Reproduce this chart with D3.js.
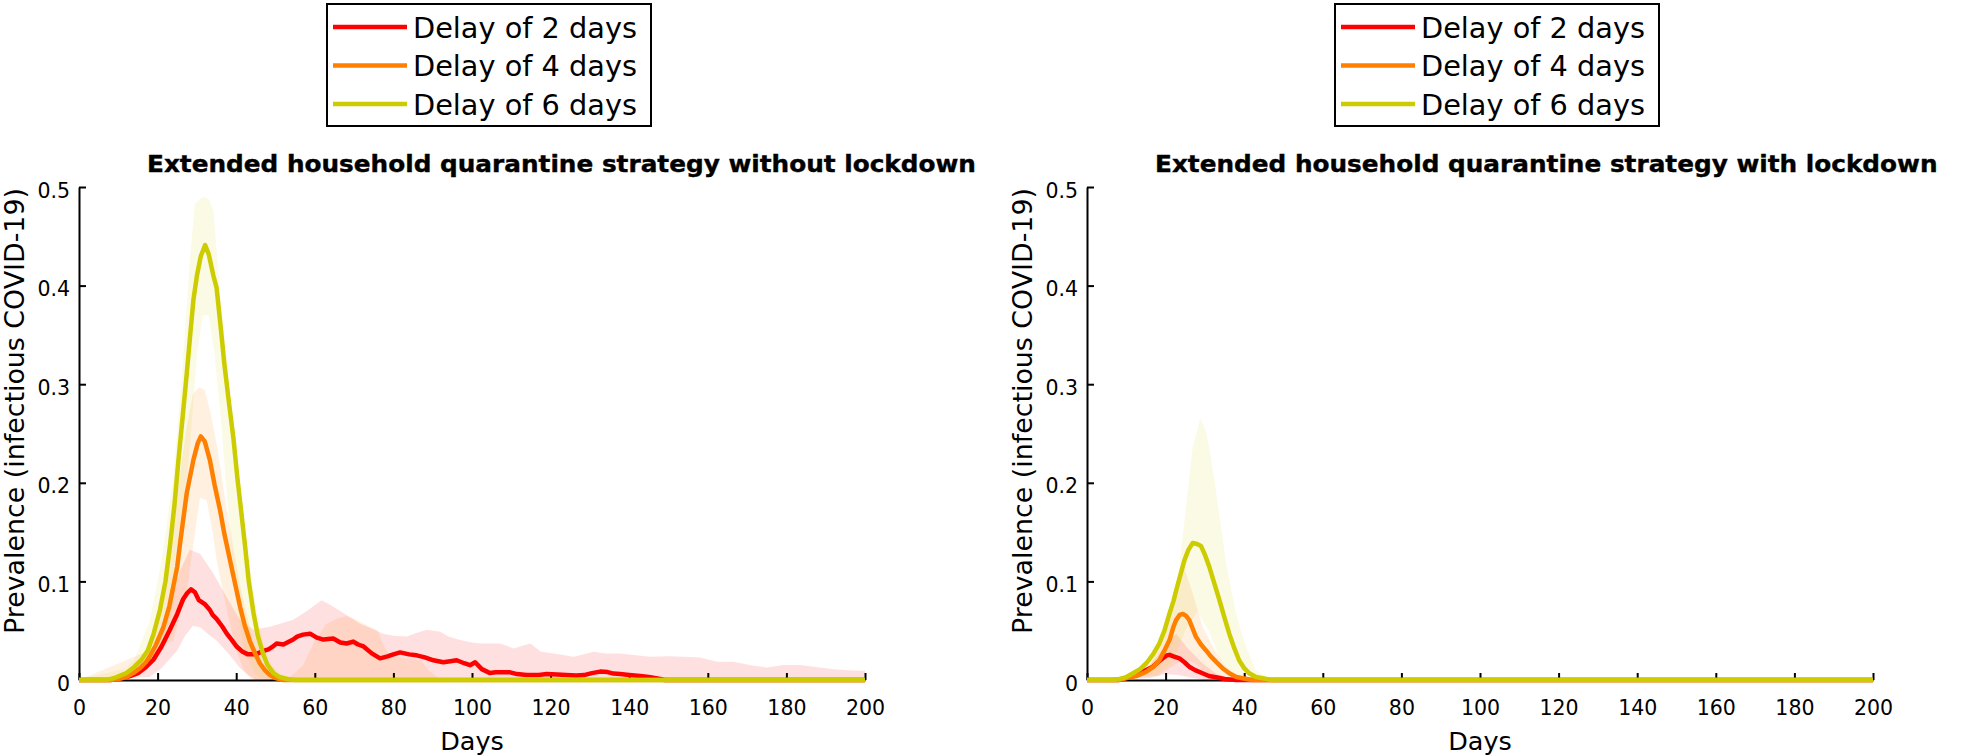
<!DOCTYPE html>
<html>
<head>
<meta charset="utf-8">
<script src="https://cdn.jsdelivr.net/npm/d3@7/dist/d3.min.js"></script>
<style>
  html, body { margin: 0; padding: 0; background: #fff; }
  svg { display: block; }
  text { font-family: "DejaVu Sans", Verdana, sans-serif; fill: #000; }
</style>
</head>
<body>
<svg id="chart" width="1968" height="756"></svg>
<script>
// ---------- data ----------
const xTicks = [0, 20, 40, 60, 80, 100, 120, 140, 160, 180, 200];
const yTicks = [0, 0.1, 0.2, 0.3, 0.4, 0.5];
const seriesNames = ["Delay of 2 days", "Delay of 4 days", "Delay of 6 days"];
const seriesColors = ["#ff0000", "#ff8000", "#cccc00"];
const panelTitles = [
  "Extended household quarantine strategy without lockdown",
  "Extended household quarantine strategy with lockdown"
];
const xLabel = "Days";
const yLabel = "Prevalence (infectious COVID-19)";

// Without lockdown: mean lines [day, prevalence]
const noLock2 = [[0,0],[8,0],[11,0.002],[13,0.004],[15,0.007],[17,0.013],[19,0.021],[21,0.034],[23,0.05],[25,0.067],[26.5,0.082],[27.5,0.088],[28.5,0.092],[29.5,0.089],[30.5,0.081],[32,0.077],[33.3,0.071],[34,0.066],[35,0.062],[36.5,0.054],[37.6,0.047],[39,0.04],[40.1,0.034],[41.5,0.029],[43,0.026],[45,0.026],[46.5,0.029],[48.2,0.031],[49,0.033],[50.3,0.037],[52,0.036],[53,0.038],[54.5,0.041],[55.5,0.044],[57,0.046],[58.8,0.047],[60.5,0.043],[62.2,0.041],[64.7,0.042],[66.5,0.038],[68.1,0.037],[69.8,0.039],[71,0.036],[72.4,0.034],[74.5,0.027],[76.6,0.022],[78.5,0.024],[80,0.026],[81.7,0.028],[84,0.026],[85.9,0.025],[88,0.023],[90.2,0.02],[92.7,0.018],[94.5,0.019],[96.1,0.02],[98,0.017],[99.5,0.015],[100.8,0.018],[102.5,0.011],[104.6,0.007],[106,0.0078],[109.7,0.0078],[111.5,0.006],[113.9,0.005],[117,0.005],[119,0.006],[121.6,0.0055],[124,0.005],[126.6,0.0045],[128.5,0.005],[130.5,0.007],[132.6,0.0085],[134.5,0.008],[136,0.0065],[137.7,0.006],[140,0.005],[142.8,0.004],[145,0.003],[147.9,0.001],[149,0],[200,0]];
const noLock4 = [[0,0],[8,0],[10,0.001],[12,0.003],[13.8,0.007],[15.5,0.012],[17,0.018],[18,0.024],[19.5,0.035],[21.5,0.054],[23,0.075],[24,0.095],[25,0.115],[25.7,0.138],[26.5,0.162],[27.4,0.189],[28.2,0.205],[29.1,0.223],[30.2,0.24],[31,0.247],[32,0.242],[33.3,0.223],[34.5,0.198],[35.9,0.172],[37,0.148],[38.4,0.122],[39.7,0.098],[41,0.074],[42.2,0.055],[43.5,0.039],[44.8,0.027],[46,0.017],[47.3,0.01],[48.6,0.005],[50,0.002],[52,0],[200,0]];
const noLock6 = [[0,0],[7,0],[9,0.002],[12,0.007],[14,0.013],[16,0.021],[17.5,0.03],[19,0.047],[20.6,0.071],[22,0.1],[23.2,0.138],[24.3,0.178],[25.3,0.223],[26.4,0.268],[27.4,0.31],[28.3,0.35],[29.1,0.385],[30,0.41],[31,0.43],[32.1,0.441],[33,0.432],[34.2,0.41],[35,0.398],[36,0.36],[37,0.32],[38.2,0.28],[39.3,0.245],[40.3,0.205],[41.3,0.17],[42.2,0.138],[43.2,0.1],[44.4,0.068],[45.5,0.045],[46.8,0.027],[48,0.015],[49.5,0.007],[51,0.003],[53,0.001],[55,0],[200,0]];

// Without lockdown: uncertainty bands (upper / lower)
const noLock2Hi = [[0,0],[10,0.003],[15,0.012],[18,0.025],[20.6,0.044],[23.2,0.078],[25.7,0.111],[28.2,0.132],[30.8,0.128],[34.2,0.108],[37.6,0.084],[41,0.061],[44.4,0.051],[48.6,0.054],[54.5,0.061],[58,0.07],[61.7,0.081],[64,0.076],[67.3,0.068],[71.5,0.057],[74,0.053],[77.4,0.047],[80,0.045],[83.4,0.044],[86,0.048],[88.5,0.051],[91.9,0.049],[94,0.044],[97,0.0405],[100,0.038],[102.1,0.037],[107.2,0.037],[110.6,0.032],[113,0.035],[114.9,0.037],[117.4,0.029],[122,0.026],[125.9,0.0236],[131,0.0287],[134,0.027],[137.7,0.027],[145.4,0.0236],[150,0.024],[153.9,0.0236],[158,0.0229],[162.4,0.0186],[166.5,0.0186],[171,0.015],[175,0.0128],[179.3,0.0152],[183.5,0.0152],[188,0.013],[192,0.0108],[196,0.01],[200,0.0095]];
const noLock2Lo = [[0,0],[18,0.003],[21,0.012],[25,0.03],[27,0.045],[29,0.055],[31,0.053],[33,0.046],[35,0.04],[38,0.027],[41,0.012],[43,0.005],[45,0],[200,0]];
const noLock4Hi = [[0,0],[12,0.004],[16,0.02],[19,0.045],[22.3,0.105],[24.9,0.189],[27.4,0.257],[29,0.29],[30.5,0.297],[32,0.294],[33.5,0.27],[35,0.24],[37.6,0.172],[41,0.095],[44.4,0.037],[47,0.012],[50,0.003],[54,0.004],[57,0.015],[60,0.04],[63,0.057],[66,0.063],[68,0.065],[70,0.062],[73,0.056],[76,0.05],[77.5,0.035],[79,0.025],[83,0.022],[87,0.02],[89,0.01],[92,0],[200,0]];
const noLock4Lo = [[0,0],[24,0.04],[26,0.07],[27.4,0.088],[29.1,0.138],[30.8,0.185],[32.5,0.182],[34,0.15],[35,0.122],[37.6,0.071],[40,0.03],[42,0.01],[44,0],[200,0]];
const noLock6Hi = [[0,0],[10,0.004],[14,0.02],[18,0.06],[21,0.12],[24,0.206],[26.5,0.324],[28.2,0.425],[29.5,0.483],[31.6,0.49],[33,0.488],[34.2,0.476],[35.9,0.392],[38.4,0.29],[41,0.189],[44.4,0.088],[46.9,0.037],[49,0.015],[52,0.004],[55,0],[200,0]];
const noLock6Lo = [[0,0],[20,0.02],[23,0.06],[25,0.1],[27,0.18],[28.5,0.25],[30,0.33],[31.5,0.37],[33,0.37],[34.5,0.33],[36,0.27],[38,0.17],[40,0.08],[42,0.03],[45,0.005],[48,0],[200,0]];

// With lockdown: mean lines
const lock2 = [[0,0],[8,0],[10,0.002],[12.5,0.005],[14.5,0.009],[16.8,0.0135],[18,0.018],[19.3,0.022],[20.3,0.025],[21,0.0255],[22,0.024],[23.5,0.022],[24.8,0.018],[26,0.0135],[27.5,0.01],[29.4,0.0068],[31,0.004],[32.8,0.0027],[35,0.001],[38,0],[200,0]];
const lock4 = [[0,0],[8,0],[10,0.002],[12.5,0.004],[15.1,0.0084],[16.8,0.013],[18.4,0.02],[19.7,0.03],[21,0.0405],[22,0.054],[22.7,0.061],[23.6,0.066],[24.4,0.067],[25.2,0.065],[26,0.061],[26.8,0.053],[27.7,0.044],[29,0.036],[30.3,0.03],[31.5,0.024],[32.8,0.0186],[34.5,0.012],[36.2,0.0068],[38,0.003],[39.6,0.0017],[42,0],[200,0]];
const lock6 = [[0,0],[7,0],[8.3,0.001],[10,0.003],[11.7,0.0068],[13.5,0.011],[15.1,0.017],[16.8,0.026],[18.4,0.037],[19.7,0.05],[21,0.0675],[22,0.08],[22.7,0.091],[23.8,0.107],[24.8,0.1216],[25.8,0.132],[26.9,0.139],[28,0.138],[29,0.136],[30,0.127],[31.1,0.115],[32.4,0.098],[33.7,0.081],[35,0.063],[36.2,0.047],[37.5,0.032],[38.7,0.02],[40,0.012],[41.3,0.0068],[43,0.003],[44.7,0.0017],[47,0],[200,0]];

// With lockdown: uncertainty bands
const lock2Hi = [[0,0],[12,0.004],[16,0.015],[19,0.03],[21,0.04],[22.7,0.047],[25.2,0.034],[29.4,0.017],[33,0.006],[37,0.001],[40,0],[200,0]];
const lock2Lo = [[0,0],[16,0.002],[20,0.006],[23,0.005],[27,0.002],[30,0],[200,0]];
const lock4Hi = [[0,0],[12,0.004],[16,0.015],[19.3,0.04],[21.8,0.084],[23.5,0.11],[24.4,0.118],[26.9,0.088],[29.4,0.054],[32,0.034],[35,0.015],[38,0.004],[41,0],[200,0]];
const lock4Lo = [[0,0],[18,0.004],[21,0.012],[24,0.02],[27,0.018],[30,0.008],[33,0.002],[36,0],[200,0]];
const lock6Hi = [[0,0],[12,0.005],[16,0.02],[19,0.04],[21,0.061],[23.5,0.115],[25.2,0.176],[26.9,0.236],[28.8,0.265],[30,0.255],[31.1,0.236],[32.8,0.192],[35.4,0.118],[37.9,0.0675],[40.4,0.034],[43,0.01],[46,0.002],[50,0],[200,0]];
const lock6Lo = [[0,0],[18,0.005],[22,0.02],[25,0.05],[28,0.07],[31,0.05],[34,0.02],[37,0.005],[40,0],[200,0]];

// ---------- drawing ----------
const svg = d3.select("#chart");
svg.append("rect").attr("width", 1968).attr("height", 756).attr("fill", "#fff");

const panels = [
  { off: 0, title: panelTitles[0], lines: [noLock2, noLock4, noLock6],
    bands: [[noLock2Hi, noLock2Lo], [noLock4Hi, noLock4Lo], [noLock6Hi, noLock6Lo]] },
  { off: 1008, title: panelTitles[1], lines: [lock2, lock4, lock6],
    bands: [[lock2Hi, lock2Lo], [lock4Hi, lock4Lo], [lock6Hi, lock6Lo]] }
];

const fmtY = d => d === 0 ? "0" : d3.format(".1f")(d);
let titleRatio = null;

panels.forEach((p, pi) => {
  const g = svg.append("g").attr("transform", `translate(${p.off},0)`);
  const x = d3.scaleLinear().domain([0, 200]).range([79, 865]);
  const y = d3.scaleLinear().domain([0, 0.5]).range([680, 187]);

  // bands
  const lineGen = d3.line().x(d => x(d[0])).y(d => y(d[1]));
  p.bands.forEach((b, i) => {
    const poly = b[0].concat(b[1].slice().reverse());
    g.append("path")
      .attr("d", lineGen(poly) + "Z")
      .attr("fill", seriesColors[i])
      .attr("fill-opacity", i === 2 ? 0.1 : 0.12)
      .attr("stroke", "none");
  });

  // axes
  const xAxis = d3.axisBottom(x).tickValues(xTicks).tickSizeInner(-7).tickSizeOuter(0).tickPadding(20);
  const yAxis = d3.axisLeft(y).tickValues(yTicks).tickFormat(fmtY).tickSizeInner(-7).tickSizeOuter(0).tickPadding(9);
  const gx = g.append("g").attr("transform", "translate(0,680)").call(xAxis);
  const gy = g.append("g").attr("transform", "translate(79,0)").call(yAxis);
  [gx, gy].forEach(a => {
    a.select(".domain").attr("stroke", "#000").attr("stroke-width", 2);
    a.selectAll(".tick line").attr("stroke", "#000").attr("stroke-width", 2);
    a.selectAll(".tick text").attr("font-family", "DejaVu Sans").attr("font-size", 20.5).attr("fill", "#000");
  });
  gy.selectAll(".tick text").attr("dy", "0.49em");

  // axis labels
  g.append("text").attr("x", 472).attr("y", 750).attr("text-anchor", "middle")
    .attr("font-size", 25.5).text(xLabel);
  g.append("text").attr("transform", "translate(24,411) rotate(-90)")
    .attr("text-anchor", "middle").attr("font-size", 26)
    .attr("textLength", 446).attr("lengthAdjust", "spacingAndGlyphs").text(yLabel);

  // mean lines
  p.lines.forEach((ln, i) => {
    g.append("path").attr("d", lineGen(ln))
      .attr("fill", "none").attr("stroke", seriesColors[i])
      .attr("stroke-width", 4.5).attr("stroke-linejoin", "round").attr("stroke-linecap", "butt");
  });

  // title
  const t = g.append("text").attr("x", 147).attr("y", 172)
    .attr("font-size", 23.5).attr("font-weight", "bold")
    .attr("stroke", "#000").attr("stroke-width", 0.4).text(p.title);
  const nat = t.node().getComputedTextLength();
  if (titleRatio === null) titleRatio = 829 / nat;
  t.attr("textLength", nat * titleRatio).attr("lengthAdjust", "spacingAndGlyphs");

  // legend
  const lg = g.append("g");
  lg.append("rect").attr("x", 327).attr("y", 4).attr("width", 324).attr("height", 122)
    .attr("fill", "#fff").attr("stroke", "#000").attr("stroke-width", 2);
  seriesNames.forEach((nm, i) => {
    const ry = 27 + i * 38.5;
    lg.append("line").attr("x1", 333).attr("x2", 407).attr("y1", ry).attr("y2", ry)
      .attr("stroke", seriesColors[i]).attr("stroke-width", 4.5);
    lg.append("text").attr("x", 413).attr("y", ry + 10.5)
      .attr("font-size", 29).attr("textLength", 224).attr("lengthAdjust", "spacingAndGlyphs").text(nm);
  });
});
</script>
</body>
</html>
